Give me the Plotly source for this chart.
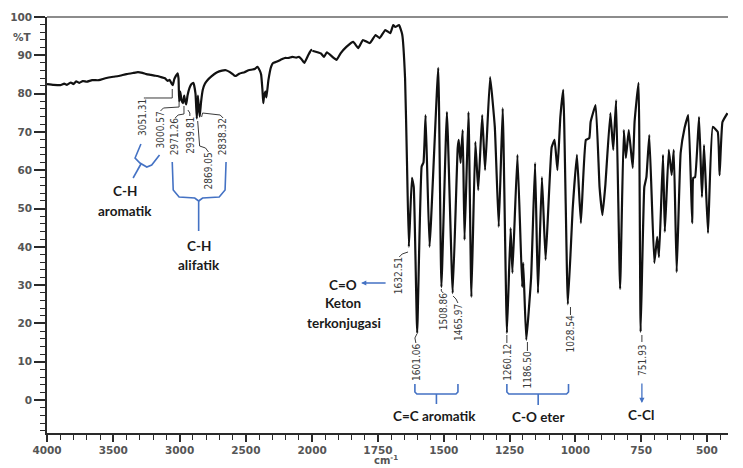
import plotly.graph_objects as go

# ---------------- data ----------------
wavenumber = [
    4000, 3950, 3900, 3870, 3850, 3820, 3800, 3780, 3756, 3730, 3700, 3660, 3609, 3560, 3500,
    3461, 3400, 3350, 3314, 3280, 3250, 3220, 3190, 3166, 3140, 3110, 3090, 3075, 3060, 3051,
    3040, 3030, 3015, 3008, 3003, 2995, 2985, 2975, 2965, 2958, 2950, 2940, 2925, 2910, 2895,
    2880, 2870, 2862, 2855, 2848, 2838, 2825, 2810, 2790, 2760, 2720, 2680, 2650, 2620, 2590,
    2576, 2550, 2510, 2480, 2450, 2430, 2413, 2395, 2385, 2375, 2369, 2362, 2352, 2345, 2330,
    2310, 2295, 2270, 2240, 2207, 2180, 2150, 2120, 2100, 2080, 2059, 2030, 2007, 2000,
    1967, 1955, 1944, 1918, 1907, 1892, 1870, 1844, 1825, 1807, 1781, 1759, 1744, 1722, 1703,
    1692, 1684, 1670, 1658, 1647, 1640, 1632.5, 1621, 1614, 1601, 1584, 1577, 1569, 1554, 1521,
    1509, 1488, 1466, 1447, 1443, 1436, 1428, 1421, 1406, 1395, 1380, 1369, 1354, 1343, 1324,
    1306, 1291, 1276, 1260, 1246, 1239, 1220, 1202, 1198, 1186.5, 1168, 1153, 1142, 1127, 1113,
    1090, 1079, 1068, 1057, 1046, 1028.5, 1010, 994, 979, 960, 947, 942, 923, 908, 897,
    886, 867, 856, 845, 830, 816, 808, 797, 782, 775, 760, 752, 738, 730, 719,
    700, 689, 682, 667, 660, 645, 634, 626, 615, 600, 585, 571, 556, 552, 545,
    530, 519, 511, 496, 478, 459, 452, 441, 422,
]
transmittance = [
    82.5, 82.3, 82.2, 82.6, 82.3, 82.9, 82.5, 83.2, 82.8, 83.3, 83.1, 83.5, 83.5, 84.0, 84.4,
    84.6, 85.1, 85.4, 85.6, 85.4, 85.1, 84.9, 84.7, 84.6, 84.3, 84.0, 83.3, 83.6, 82.6, 82.2,
    83.8, 84.5, 85.3, 84.0, 78.0, 80.5, 78.2, 77.5, 79.5, 78.0, 77.2, 79.5, 81.5, 82.5, 82.8,
    80.0, 73.5, 79.5, 76.5, 74.0, 77.8, 81.0, 82.5, 83.5, 84.5, 85.5, 86.0, 86.1, 85.6, 84.8,
    84.6, 85.2, 85.6, 86.1, 86.3, 86.5, 87.0, 86.0, 85.0, 81.0, 77.5, 79.5, 80.5, 79.0, 83.5,
    87.0, 88.0, 88.3, 88.8, 89.3, 89.3, 89.6, 89.4, 89.6, 89.0, 88.0, 90.0, 91.4, 91.2,
    90.5, 89.6, 90.8, 89.3, 88.8, 90.5, 92.2, 93.5, 91.9, 94.0, 93.2, 95.3, 94.5, 96.6, 95.8,
    97.9, 97.4, 97.9, 95.5, 84.0, 63.0, 40.0, 58.0, 55.6, 17.5, 61.0, 62.0, 74.4, 40.0, 86.7,
    29.5, 75.2, 27.9, 65.8, 67.9, 61.9, 70.5, 41.8, 75.2, 26.9, 67.4, 54.8, 74.4, 60.0, 84.3,
    71.3, 45.2, 76.2, 17.5, 44.9, 33.2, 64.0, 29.5, 35.8, 15.7, 32.1, 61.9, 27.9, 58.2, 36.6,
    66.0, 67.9, 60.0, 73.9, 81.0, 25.0, 50.0, 64.0, 46.2, 67.9, 68.4, 72.6, 77.0, 55.6, 48.3,
    56.1, 74.9, 65.3, 78.3, 29.0, 70.5, 63.2, 70.5, 60.6, 72.6, 82.8, 17.8, 55.6, 58.2, 69.2,
    35.8, 42.6, 37.3, 64.0, 43.9, 65.3, 58.7, 65.3, 33.4, 64.5, 71.0, 74.4, 46.2, 58.0, 58.2,
    73.9, 53.0, 66.6, 43.6, 71.3, 70.0, 58.7, 72.6, 74.9,
]

x_ticks_left = [4000, 3500, 3000, 2500, 2000]
x_ticks_right = [1750, 1500, 1250, 1000, 750, 500]
y_ticks = [0, 10, 20, 30, 40, 50, 60, 70, 80, 90, 100]

peak_labels = ["3051.31", "3000.57", "2971.26", "2939.81", "2869.05", "2838.32",
               "1632.51", "1601.06", "1508.86", "1465.97", "1260.12", "1186.50",
               "1028.54", "751.93"]

# ---------------- layout geometry (pixels) ----------------
W, H = 743, 468
ML, MT, MR, MB = 47, 17, 0, 35
PW, PH = W - ML - MR, H - MT - MB
SPLIT = 271 / PW   # 4000-2000 occupies a compressed left part of the axis


def P(px, py):
    """page pixel -> paper coordinates"""
    return (px - ML) / PW, (MT + PH - py) / PH


def path(points):
    s = ""
    for i, (px, py) in enumerate(points):
        x, y = P(px, py)
        s += ("M" if i == 0 else " L") + f" {x:.5f},{y:.5f}"
    return s


left_x = [w for w in wavenumber if w >= 2000]
left_y = [t for w, t in zip(wavenumber, transmittance) if w >= 2000]
right_x = [w for w in wavenumber if w <= 2000]
right_y = [t for w, t in zip(wavenumber, transmittance) if w <= 2000]

line_style = dict(color="#111111", width=2.2, shape="spline", smoothing=0.35)

fig = go.Figure()
fig.add_trace(go.Scatter(x=left_x, y=left_y, mode="lines", line=line_style,
                         xaxis="x", yaxis="y", showlegend=False, hoverinfo="skip"))
fig.add_trace(go.Scatter(x=right_x, y=right_y, mode="lines", line=line_style,
                         xaxis="x2", yaxis="y", showlegend=False, hoverinfo="skip"))

tick_font = dict(family="DejaVu Sans, Verdana, sans-serif", size=10.5, color="#555555", weight="bold")
axis_common = dict(showgrid=False, zeroline=False, showline=True, linecolor="#2a2a2a", linewidth=1.6,
                   ticks="outside", ticklen=7, tickwidth=1.6, tickcolor="#2a2a2a",
                   tickfont=tick_font)

fig.update_layout(
    width=W, height=H,
    margin=dict(l=ML, r=MR, t=MT, b=MB, pad=0),
    paper_bgcolor="white", plot_bgcolor="white",
    xaxis=dict(domain=[0, SPLIT], range=[4000, 2000], anchor="y",
               tickmode="array", tickvals=x_ticks_left,
               minor=dict(dtick=100, ticklen=5, tickwidth=1.4, tickcolor="#2a2a2a", ticks="outside"),
               **axis_common),
    xaxis2=dict(domain=[SPLIT, 1], range=[2000, 420], anchor="y",
                tickmode="array", tickvals=x_ticks_right,
                minor=dict(dtick=50, ticklen=5, tickwidth=1.4, tickcolor="#2a2a2a", ticks="outside"),
                **axis_common),
    yaxis=dict(domain=[0, 1], range=[-8.6, 100], anchor="x",
               tickmode="array", tickvals=y_ticks,
               minor=dict(dtick=2, ticklen=5, tickwidth=1.4, tickcolor="#2a2a2a", ticks="outside"),
               **{**axis_common, "ticklen": 11}),
)

# top frame line
fig.add_shape(type="line", xref="paper", yref="paper", x0=0, x1=1, y0=1, y1=1,
              line=dict(color="#8c8c8c", width=2.2))

annotations = []

# %T label and axis unit
x, y = P(34, 37)
annotations.append(dict(text="%T", x=x, y=y, xref="paper", yref="paper", showarrow=False,
                        xanchor="right", yanchor="middle", font=tick_font))
x, y = P(393, 460)
annotations.append(dict(text="cm<sup>-1</sup>", x=x, y=y, xref="paper", yref="paper", showarrow=False,
                        xanchor="center", yanchor="middle",
                        font=dict(family="DejaVu Sans, sans-serif", size=10, color="#555555", weight="bold")))

# rotated peak labels and leaders
label_pos = [(144, 117), (162, 130), (177, 137), (193, 135), (212, 171), (226, 137),
             (406, 276), (424, 362), (452, 312), (467, 322), (517, 362), (538, 370),
             (582, 334), (655, 360)]
leaders = [
    [(146, 98), (148, 98), (175, 98), (175, 89)],
    [(163, 111), (166, 108), (182, 107), (182, 101)],
    [(178, 118), (181, 115), (187, 114), (187, 106)],
    [(193, 116), (193, 113), (191, 110)],
    [(212, 152), (209, 148), (203, 146), (201, 121)],
    [(227, 118), (224, 115), (206, 113), (205, 117)],
    [(407, 257), (410, 254), (416, 252)],
    [(424, 343), (423, 338), (425, 334)],
    [(452, 293), (450, 291), (450, 289)],
    [(467, 303), (465, 299), (462, 296)],
    [(517, 343), (517, 335)],
    [(538, 351), (538, 342)],
    [(582, 315), (582, 307)],
    [(655, 342), (655, 335)],
]
label_font = dict(family="DejaVu Sans Condensed, Liberation Sans Narrow, DejaVu Sans, sans-serif",
                  size=10, color="#3a3a3a")
for txt, (px, py) in zip(peak_labels, label_pos):
    x, y = P(px, py)
    annotations.append(dict(text=txt, x=x, y=y, xref="paper", yref="paper", showarrow=False,
                            textangle=-90, xanchor="center", yanchor="middle", font=label_font))
for pts in leaders:
    fig.add_shape(type="path", xref="paper", yref="paper", path=path(pts),
                  line=dict(color="#3a3a3a", width=1))

# blue braces / arrows
BLUE = "#4472C4"
braces = [
    [(143, 144), (137, 158), (142, 163), (149, 167), (154, 165), (162, 155)],
    [(143, 164), (135, 178)],
    [(175, 162), (176, 190), (182, 197), (198, 198), (202, 201), (202, 231)],
    [(202, 201), (206, 198), (223, 197), (229, 190), (230, 162)],
    [(423, 384), (423, 392), (425, 394), (465, 394), (467, 392), (467, 384)],
    [(445, 394), (445, 404)],
    [(517, 384), (517, 392), (519, 394), (578, 394), (580, 392), (580, 384)],
    [(549, 394), (549, 405)],
]
for pts in braces:
    fig.add_shape(type="path", xref="paper", yref="paper", path=path(pts),
                  line=dict(color=BLUE, width=1.6))

# arrows
x, y = P(368, 283)
annotations.append(dict(text="", x=x, y=y, xref="paper", yref="paper", showarrow=True,
                        ax=26, ay=0, arrowhead=2, arrowsize=0.8, arrowwidth=1.3, arrowcolor=BLUE))
x, y = P(655, 403)
annotations.append(dict(text="", x=x, y=y, xref="paper", yref="paper", showarrow=True,
                        ax=0, ay=-21, arrowhead=2, arrowsize=0.8, arrowwidth=1.3, arrowcolor=BLUE))

# group labels
group_font = dict(family="Lato, Open Sans, sans-serif", size=13.5, color="#1a1a1a", weight="bold")
group_labels = [("C-H", 127, 191), ("aromatik", 127, 211), ("C-H", 202, 246), ("alifatik", 202, 265),
                ("C=O", 350, 285), ("Keton", 350, 303), ("terkonjugasi", 351, 323),
                ("C=C aromatik", 443, 416), ("C-O eter", 549, 417), ("C-Cl", 654, 415)]
for txt, px, py in group_labels:
    x, y = P(px, py)
    annotations.append(dict(text=txt, x=x, y=y, xref="paper", yref="paper", showarrow=False,
                            xanchor="center", yanchor="middle", font=group_font))

fig.update_layout(annotations=annotations)
fig.write_html("out.html", config={"displayModeBar": False},
               post_script="document.body.style.margin='0';document.body.style.overflow='hidden';")
